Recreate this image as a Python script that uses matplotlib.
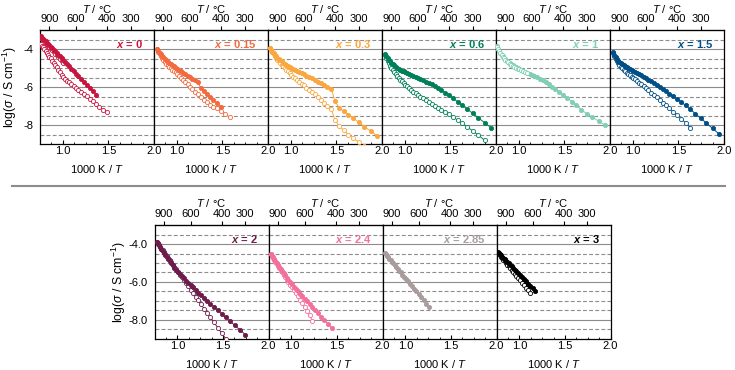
import numpy as np
import matplotlib
matplotlib.use('Agg')
import matplotlib.pyplot as plt
from matplotlib.lines import Line2D
from matplotlib.ticker import FixedLocator, MultipleLocator, FormatStrFormatter

plt.rcParams['font.family'] = ['Liberation Sans', 'DejaVu Sans']
plt.rcParams['mathtext.fontset'] = 'custom'
plt.rcParams['mathtext.rm'] = 'Liberation Sans'
plt.rcParams['mathtext.it'] = 'Liberation Sans:italic'
plt.rcParams['mathtext.bf'] = 'Liberation Sans:bold'
plt.rcParams['mathtext.bfit'] = 'Liberation Sans:italic:bold'
plt.rcParams['axes.unicode_minus'] = True

# measurement temperatures (deg C), 20 degree steps
TEMP_C = [1040, 1020, 1000, 980, 960, 940, 920, 900, 880, 860, 840, 820, 800,
          780, 760, 740, 720, 700, 680, 660, 640, 620, 600, 580, 560, 540, 520,
          500, 480, 460, 440, 420, 400, 380, 360, 340, 320, 300, 280, 260, 240, 220]
T_TICKS = [900, 600, 400, 300]

# log(sigma) values, filled = heating, open = cooling
x0_fill = [-3.32, -3.38, -3.45, -3.51, -3.58, -3.64, -3.71, -3.79, -3.86, -3.94,
           -4.02, -4.10, -4.19, -4.28, -4.37, -4.47, -4.57, -4.68, -4.79, -4.90,
           -5.02, -5.15, -5.28, -5.42, -5.56, -5.71, -5.87, -6.04, -6.21, -6.40]
x0_open_a = [-3.38, -3.45, -3.52, -3.59, -3.66, -3.73, -3.81, -3.89, -3.97, -4.05,
             -4.14, -4.23, -4.32, -4.42, -4.52, -4.62, -4.73]
x0_open_b = [-3.73, -3.82, -3.90, -3.99, -4.08, -4.18, -4.28, -4.38, -4.48, -4.59,
             -4.71, -4.82, -4.94, -5.07, -5.20, -5.34, -5.48, -5.56, -5.65, -5.73,
             -5.83, -5.92, -6.02, -6.13, -6.24, -6.35, -6.47, -6.60, -6.74, -6.88,
             -7.03, -7.19, -7.30]

x015_fill = [-3.97, -4.07, -4.17, -4.26, -4.35, -4.43, -4.51, -4.58, -4.65, -4.72,
             -4.78, -4.84, -4.90, -4.96, -5.02, -5.09, -5.16, -5.23, -5.31, -5.39,
             -5.47, -5.55, -5.63, -5.72, -6.02, -6.18, -6.34, -6.50, -6.67, -6.84, -7.03]
x015_open = [-4.00, -4.12, -4.24, -4.35, -4.46, -4.56, -4.66, -4.75, -4.84, -4.92,
             -5.00, -5.08, -5.15, -5.22, -5.30, -5.39, -5.49, -5.60, -5.72, -5.85,
             -5.98, -6.11, -6.24, -6.38, -6.52, -6.66, -6.80, -6.92, -7.02, -7.12,
             -7.25, -7.42, -7.60]

x03_fill = [-3.93, -4.02, -4.12, -4.21, -4.29, -4.37, -4.44, -4.51, -4.58, -4.64,
            -4.70, -4.76, -4.82, -4.88, -4.94, -5.00, -5.05, -5.10, -5.15, -5.20,
            -5.26, -5.32, -5.39, -5.46, -5.54, -5.62, -5.71, -5.80, -5.89, -5.98,
            -6.07, -6.75, -7.10, -7.27, -7.45, -7.64, -7.85, -8.08, -8.32, -8.58]
x03_open = [-3.95, -4.04, -4.14, -4.24, -4.34, -4.44, -4.54, -4.63, -4.72, -4.81,
            -4.90, -4.99, -5.08, -5.17, -5.26, -5.35, -5.44, -5.53, -5.62, -5.71,
            -5.81, -5.91, -6.02, -6.13, -6.25, -6.38, -6.52, -6.67, -6.83, -6.99,
            -7.16, -7.75, -8.05, -8.28, -8.50, -8.70, -8.90, -9.10]

x06_fill = [-4.25, -4.36, -4.46, -4.55, -4.63, -4.71, -4.78, -4.85, -4.91, -4.97,
            -5.02, -5.07, -5.12, -5.17, -5.21, -5.26, -5.31, -5.36, -5.41, -5.46,
            -5.51, -5.57, -5.63, -5.70, -5.77, -5.85, -5.94, -6.04, -6.15, -6.28,
            -6.43, -6.59, -6.77, -6.96, -7.16, -7.38, -7.62, -7.88, -8.15]
x06_open = [-4.28, -4.45, -4.60, -4.74, -4.87, -4.99, -5.10, -5.21, -5.31, -5.41,
            -5.51, -5.60, -5.69, -5.78, -5.87, -5.96, -6.05, -6.14, -6.23, -6.32,
            -6.41, -6.50, -6.59, -6.68, -6.77, -6.87, -6.97, -7.08, -7.19, -7.31,
            -7.44, -7.58, -7.74, -7.91, -8.10, -8.31, -8.54, -8.80]

x1_fill = [-3.85, -3.97, -4.08, -4.18, -4.28, -4.37, -4.45, -4.53, -4.60, -4.67,
           -4.73, -4.79, -4.85, -4.90, -4.95, -5.00, -5.04, -5.08, -5.13, -5.18,
           -5.23, -5.28, -5.34, -5.40, -5.47, -5.55, -5.64, -5.74, -5.85, -5.97,
           -6.10, -6.24, -6.40, -6.57, -6.76, -6.96, -7.18, -7.41, -7.58, -7.80, -8.02]
x1_open = [-3.87, -3.99, -4.10, -4.20, -4.30, -4.39, -4.47, -4.55, -4.62, -4.69,
           -4.75, -4.81, -4.87, -4.92, -4.97, -5.02, -5.06, -5.10, -5.15, -5.20, -5.25]

x15_fill = [-4.15, -4.30, -4.42, -4.52, -4.60, -4.67, -4.73, -4.79, -4.85, -4.90,
            -4.95, -5.00, -5.05, -5.09, -5.13, -5.18, -5.24, -5.30, -5.37, -5.44,
            -5.52, -5.60, -5.69, -5.78, -5.88, -5.98, -6.09, -6.21, -6.34, -6.48,
            -6.63, -6.79, -6.96, -7.17, -7.40, -7.64, -7.90, -8.18, -8.48]
x15_open = [-4.18, -4.35, -4.50, -4.63, -4.74, -4.84, -4.93, -5.01, -5.09, -5.16,
            -5.23, -5.30, -5.37, -5.44, -5.51, -5.59, -5.67, -5.76, -5.85, -5.95,
            -6.05, -6.16, -6.28, -6.40, -6.53, -6.67, -6.81, -6.96, -7.12, -7.29,
            -7.47, -7.66, -7.89, -8.15]

x2_fill = [-3.88, -3.97, -4.06, -4.15, -4.25, -4.35, -4.45, -4.56, -4.67, -4.78,
           -4.89, -5.00, -5.12, -5.24, -5.36, -5.48, -5.60, -5.71, -5.82, -5.93,
           -6.05, -6.17, -6.29, -6.42, -6.56, -6.70, -6.85, -7.01, -7.17, -7.33,
           -7.50, -7.68, -7.88, -8.08, -8.30, -8.53, -8.78]
x2_open = [-3.90, -3.98, -4.07, -4.16, -4.25, -4.34, -4.44, -4.54, -4.64, -4.75,
           -4.86, -4.97, -5.09, -5.21, -5.34, -5.47, -5.61, -5.76, -5.91, -6.07,
           -6.24, -6.41, -6.59, -6.78, -6.98, -7.19, -7.41, -7.64, -7.88, -8.14,
           -8.41, -8.70, -9.00]

x24_fill = [-4.53, -4.62, -4.71, -4.81, -4.91, -5.01, -5.11, -5.21, -5.32, -5.43,
            -5.54, -5.65, -5.77, -5.89, -6.01, -6.13, -6.25, -6.37, -6.49, -6.62,
            -6.75, -6.89, -7.03, -7.18, -7.33, -7.49, -7.66, -7.84, -8.03, -8.23, -8.44]
x24_open = [-4.55, -4.64, -4.74, -4.84, -4.94, -5.05, -5.16, -5.27, -5.38, -5.50,
            -5.62, -5.75, -5.88, -6.01, -6.15, -6.29, -6.44, -6.60, -6.77, -6.95,
            -7.14, -7.34, -7.55, -7.77, -8.05]

x285_fill = [-4.47, -4.54, -4.61, -4.69, -4.77, -4.85, -4.93, -5.02, -5.11, -5.20,
             -5.30, -5.40, -5.50, -5.61, -5.72, -5.84, -5.96, -6.09, -6.22, -6.36,
             -6.50, -6.65, -6.81, -6.97, -7.15, -7.33]

x3_fill = [-4.41, -4.47, -4.53, -4.59, -4.66, -4.73, -4.80, -4.87, -4.94, -5.02,
           -5.10, -5.18, -5.27, -5.36, -5.45, -5.55, -5.65, -5.75, -5.86, -5.97,
           -6.09, -6.21, -6.34, -6.47]
x3_open = [-4.46, -4.53, -4.60, -4.68, -4.75, -4.83, -4.92, -5.00, -5.09, -5.18,
           -5.28, -5.37, -5.47, -5.58, -5.69, -5.80, -5.92, -6.04, -6.17, -6.31,
           -6.45, -6.59]

LABELS = ['0', '0.15', '0.3', '0.6', '1', '1.5', '2', '2.4', '2.85', '3']
COLORS = ['#c8153f', '#f26a3d', '#f9a73e', '#00805a', '#80cfb5', '#004f86',
          '#6d1d4b', '#f3709d', '#a99c9c', '#000000']

# (first temperature, values, filled)
SERIES = [
    [(1040, x0_open_a, False), (1040, x0_open_b, False), (1040, x0_fill, True)],
    [(1000, x015_open, False), (1000, x015_fill, True)],
    [(1020, x03_open, False), (1020, x03_fill, True)],
    [(1000, x06_open, False), (1000, x06_fill, True)],
    [(1040, x1_fill, True), (1040, x1_open, False)],
    [(1000, x15_open, False), (1000, x15_fill, True)],
    [(1020, x2_open, False), (1020, x2_fill, True)],
    [(1020, x24_open, False), (1020, x24_fill, True)],
    [(1020, x285_fill, True)],
    [(1040, x3_open, False), (1040, x3_fill, True)],
]


def to_x(t):
    return 1000.0 / (np.asarray(t, dtype=float) + 273.15)


def to_t(x):
    x = np.asarray(x, dtype=float)
    with np.errstate(divide='ignore', invalid='ignore'):
        return 1000.0 / x - 273.15


W, H = 735, 370
fig = plt.figure(figsize=(W / 100, H / 100), dpi=100)
FS = 8
GRID = '#8c8c8c'


def panel(left, top, idx, first, yfmt, ypad):
    ax = fig.add_axes([left / W, 1 - (top + 113.6) / H, 114 / W, 113.6 / H])
    col = COLORS[idx]
    for start, vals, filled in SERIES[idx]:
        i0 = TEMP_C.index(start)
        xs = to_x(TEMP_C[i0:i0 + len(vals)])
        ax.plot(xs, vals, '-', color=col, lw=0.7, marker='o', ms=3.0,
                mfc=col if filled else 'white', mec=col, mew=0.6, zorder=3)
    ax.set_xlim(0.75, 2.0)
    ax.set_ylim(-9, -3)
    ax.yaxis.set_major_locator(FixedLocator([-4, -6, -8]))
    ax.yaxis.set_minor_locator(FixedLocator([-3.5, -4.5, -5, -5.5, -6.5, -7, -7.5, -8.5]))
    ax.yaxis.set_major_formatter(FormatStrFormatter(yfmt))
    ax.grid(which='major', axis='y', color=GRID, lw=0.8)
    ax.grid(which='minor', axis='y', color=GRID, lw=0.8, ls=(0, (3.5, 2)))
    ax.set_axisbelow(True)
    ax.xaxis.set_major_locator(FixedLocator([1.0, 1.5, 2.0]))
    ax.xaxis.set_minor_locator(MultipleLocator(0.125))
    ax.xaxis.set_major_formatter(FormatStrFormatter('%.1f'))
    ax.tick_params(axis='x', which='both', direction='in', top=False, labelsize=FS)
    ax.tick_params(axis='x', which='major', length=3, pad=1.5)
    ax.tick_params(axis='x', which='minor', length=1.5)
    ax.tick_params(axis='y', which='both', direction='in', length=0, labelsize=FS,
                   pad=5, labelleft=first)
    for s in ax.spines.values():
        s.set_linewidth(0.9)
        s.set_color('black')
    ax.set_xlabel('1000 K / $\\mathit{T}$', fontsize=FS, labelpad=5)
    if first:
        ax.set_ylabel('log($\\sigma$ / S cm$^{-1}$)', fontsize=8.8, labelpad=ypad)
    sec = ax.secondary_xaxis('top', functions=(to_t, to_x))
    sec.xaxis.set_major_locator(FixedLocator(T_TICKS))
    sec.tick_params(direction='out', length=3, pad=1.5, labelsize=FS)
    sec.set_xlabel('$\\mathit{T}$ / °C', fontsize=FS, labelpad=1)
    ax.text(0.905, 0.88, '$\\mathbfit{x}$ = ' + LABELS[idx], transform=ax.transAxes,
            ha='right', va='center', color=col, fontsize=FS, fontweight='bold')
    return ax


for k in range(6):
    panel(40 + 114 * k, 30.4, k, k == 0, '%d', 3)
for k in range(4):
    panel(154.5 + 114 * k, 225.1, 6 + k, k == 0, '%.1f', 0.5)

fig.add_artist(Line2D([12 / W, 725 / W], [1 - 185.7 / H, 1 - 185.7 / H],
                      transform=fig.transFigure, color=GRID, lw=1.5))

fig.savefig('out.png', dpi=100)
